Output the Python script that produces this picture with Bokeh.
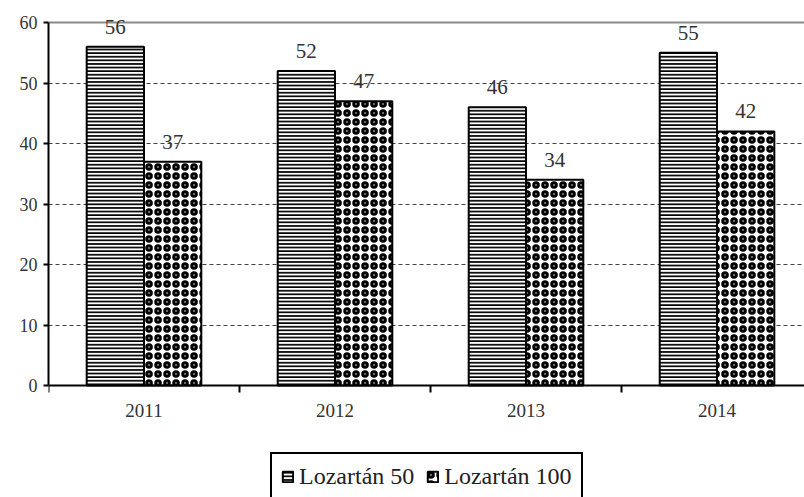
from bokeh.plotting import figure
from bokeh.models import (ColumnDataSource, Range1d, FixedTicker, LabelSet, Span,
                          Legend, LegendItem, LinearAxis)
from bokeh.embed import file_html
from bokeh.resources import INLINE

years = ["2011", "2012", "2013", "2014"]
serie_names = ["Lozartán 50", "Lozartán 100"]
loz50 = [56, 52, 46, 55]
loz100 = [37, 47, 34, 42]
y_ticks = [0, 10, 20, 30, 40, 50, 60]

FONT = "Liberation Serif"
TXT = "#333333"

idx = list(range(len(years)))
bw = 0.3
x1 = [i + 0.5 - bw / 2 for i in idx]
x2 = [i + 0.5 + bw / 2 for i in idx]
src1 = ColumnDataSource(dict(x=x1, top=loz50, lab=[str(v) for v in loz50]))
src2 = ColumnDataSource(dict(x=x2, top=loz100, lab=[str(v) for v in loz100]))

# 6.05 px per unit: frame spans the full height, 0 sits at y=385 px
p = figure(width=804, height=497, output_backend="svg", toolbar_location=None,
           x_range=Range1d(0, 3.958), y_range=Range1d(-18.51, 63.64),
           x_axis_location=None,
           min_border_left=48, min_border_right=0, min_border_top=0,
           min_border_bottom=0)
p.outline_line_color = None
p.background_fill_color = "white"
p.border_fill_color = "white"

# grid
p.xgrid.grid_line_color = None
p.ygrid.ticker = FixedTicker(ticks=y_ticks[1:-1])
p.ygrid.grid_line_color = "#444444"
p.ygrid.grid_line_dash = "4 3"
p.ygrid.grid_line_width = 1
p.add_layout(Span(location=y_ticks[-1], dimension="width", line_color="#8a8a8a",
                  line_width=2, level="underlay"))

r1 = p.vbar(x="x", top="top", width=bw, source=src1, fill_color="white",
            line_color="black", line_width=2, hatch_pattern="horizontal_line",
            hatch_color="black", hatch_scale=3.6, hatch_weight=1.8)
r2 = p.vbar(x="x", top="top", width=bw, source=src2, fill_color="white",
            line_color="black", line_width=2, hatch_pattern="ring",
            hatch_color="black", hatch_scale=9, hatch_weight=3)

for s in (src1, src2):
    p.add_layout(LabelSet(x="x", y="top", text="lab", source=s,
                          text_align="center", text_baseline="bottom",
                          y_offset=13, text_font=FONT, text_font_size="21px",
                          text_color=TXT))

# x axis drawn at y = 0
xa = LinearAxis(fixed_location=0, bounds=(0, 4))
xa.ticker = FixedTicker(ticks=[i + 0.5 for i in idx], minor_ticks=[0, 1, 2, 3, 4])
xa.major_label_overrides = {i + 0.5: y for i, y in zip(idx, years)}
xa.major_tick_out = 0
xa.major_tick_in = 0
xa.minor_tick_out = 7
xa.minor_tick_in = 0
xa.minor_tick_line_color = "black"
xa.minor_tick_line_width = 2
xa.axis_line_color = "black"
xa.axis_line_width = 2
xa.major_label_standoff = 11
xa.major_label_text_font = FONT
xa.major_label_text_font_size = "19px"
xa.major_label_text_color = TXT
p.add_layout(xa, "below")

ya = p.yaxis[0]
ya.ticker = FixedTicker(ticks=y_ticks)
ya.bounds = (0, 60)
ya.axis_line_color = "black"
ya.axis_line_width = 2
ya.major_tick_out = 5
ya.major_tick_in = 0
ya.major_tick_line_width = 2
ya.minor_tick_out = 0
ya.minor_tick_in = 0
ya.major_label_standoff = 6
ya.major_label_text_font = FONT
ya.major_label_text_font_size = "18px"
ya.major_label_text_color = TXT

legend = Legend(items=[LegendItem(label=serie_names[0], renderers=[r1]),
                       LegendItem(label=serie_names[1], renderers=[r2])],
                orientation="horizontal", location=(222, -4),
                label_text_font=FONT, label_text_font_size="24px",
                label_text_color="#222222", border_line_color="black",
                border_line_alpha=1, border_line_width=2,
                glyph_width=13, glyph_height=13,
                spacing=12, padding=9, label_standoff=5,
                background_fill_alpha=1, margin=0)
p.add_layout(legend, "center")

open("out.html", "w").write(file_html(p, INLINE))
